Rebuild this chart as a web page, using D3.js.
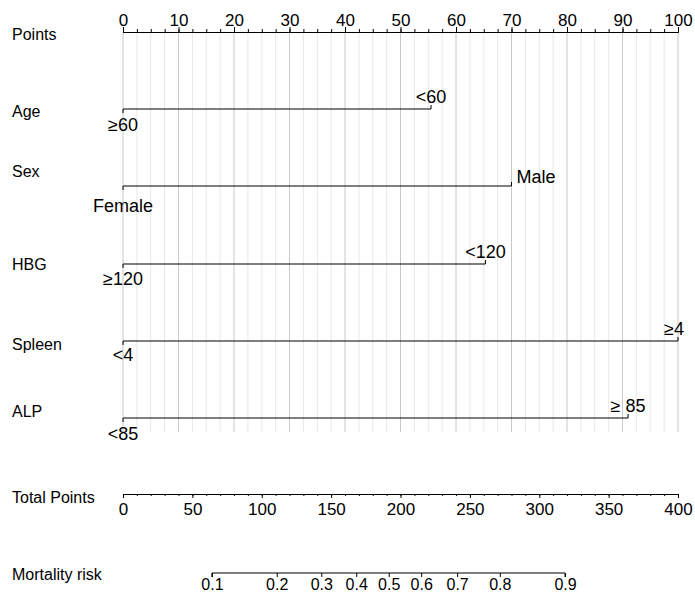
<!DOCTYPE html>
<html>
<head>
<meta charset="utf-8">
<script src="https://cdn.jsdelivr.net/npm/d3@7"></script>
<style>
  body { margin: 0; background: #fff; }
  svg text { font-family: "Liberation Sans", Arial, sans-serif; fill: #000; }
</style>
</head>
<body>
<svg id="chart" width="695" height="596"></svg>
<script>
// nomogram variables: name, label of 0-point level, label of other level, points of other level
var varNames = ["Age", "Sex", "HBG", "Spleen", "ALP"]
var lowLabels = ["\u226560", "Female", "\u2265120", "<4", "<85"]
var highLabels = ["<60", "Male", "<120", "\u22654", "\u2265 85"]
var highPoints = [55.5, 70, 65.3, 100, 91]

var pointTicks = [0, 10, 20, 30, 40, 50, 60, 70, 80, 90, 100]
var totalTicks = [0, 50, 100, 150, 200, 250, 300, 350, 400]

// mortality risk ticks and the total points where each sits
var riskTicks = ["0.1", "0.2", "0.3", "0.4", "0.5", "0.6", "0.7", "0.8", "0.9"]
var riskAtTotal = [64.1, 110.8, 142.9, 168.1, 191.5, 214.9, 240.8, 271.6, 318.6]

var svg = d3.select("#chart")
var left = 123, right = 678

var x = d3.scaleLinear().domain([0, 100]).range([left, right])
var xt = d3.scaleLinear().domain([0, 400]).range([left, right])

var rowY = [109, 186, 264, 341, 418]
var rowLabelY = [117, 177, 270, 350, 417]
var lowDy = [22, 26, 21, 20, 22]

// grid
var grid = svg.append("g")
d3.range(0, 100.01, 2.5).forEach(function(v) {
  grid.append("line")
    .attr("x1", x(v)).attr("x2", x(v))
    .attr("y1", 32).attr("y2", 432)
    .attr("stroke", v % 10 === 0 ? "#c8c8c8" : "#e8e8e8")
    .attr("stroke-width", 1)
})

// label column
function rowLabel(txt, y) {
  svg.append("text").attr("x", 12).attr("y", y)
    .attr("font-size", 16).text(txt)
}
rowLabel("Points", 40)
varNames.forEach(function(n, i) { rowLabel(n, rowLabelY[i]) })
rowLabel("Total Points", 503)
rowLabel("Mortality risk", 580)

// points axis
var pAxis = svg.append("g").attr("transform", "translate(0,32)")
pAxis.call(d3.axisTop(x).tickValues(d3.range(0, 100.01, 2.5)).tickSize(3).tickFormat(""))
pAxis.append("g").call(d3.axisTop(x).tickValues(pointTicks).tickSize(5).tickFormat(d3.format("d")))
pAxis.selectAll("text").attr("font-size", 17).attr("font-family", "Liberation Sans, Arial").attr("fill", "#000").attr("dy", "0.1em")
pAxis.selectAll("path,line").attr("stroke", "#000")

// variable rows
varNames.forEach(function(n, i) {
  var y = rowY[i]
  var g = svg.append("g")
  g.append("line")
    .attr("x1", x(0)).attr("x2", x(highPoints[i]))
    .attr("y1", y).attr("y2", y)
    .attr("stroke", "#000").attr("stroke-width", 1.1)
  g.append("line")
    .attr("x1", x(0)).attr("x2", x(0))
    .attr("y1", y).attr("y2", y + 4).attr("stroke", "#000")
  g.append("line")
    .attr("x1", x(highPoints[i])).attr("x2", x(highPoints[i]))
    .attr("y1", y).attr("y2", y - 4).attr("stroke", "#000")
  g.append("text")
    .attr("x", x(0)).attr("y", y + lowDy[i])
    .attr("text-anchor", "middle").attr("font-size", 18)
    .text(lowLabels[i])
  var hx = x(highPoints[i]), anchor = "middle", hy = y - 6
  if (n === "Sex") { hx += 5; anchor = "start"; hy = y - 3 }
  if (n === "Spleen") { hx -= 4 }
  g.append("text")
    .attr("x", hx).attr("y", hy)
    .attr("text-anchor", anchor).attr("font-size", 18)
    .text(highLabels[i])
})

// total points axis
var tAxis = svg.append("g").attr("transform", "translate(0,494)")
tAxis.call(d3.axisBottom(xt).tickValues(d3.range(0, 400.01, 10)).tickSize(2).tickFormat(""))
tAxis.append("g").call(d3.axisBottom(xt).tickValues(totalTicks).tickSize(4).tickFormat(d3.format("d")))
tAxis.selectAll("text").attr("font-size", 17).attr("font-family", "Liberation Sans, Arial").attr("fill", "#000").attr("dy", "0.85em")
tAxis.selectAll("path,line").attr("stroke", "#000")

// mortality risk axis
var rAxis = svg.append("g").attr("transform", "translate(0,573)")
rAxis.call(d3.axisBottom(xt).tickValues(riskAtTotal).tickSize(4)
  .tickFormat(function(d, i) { return riskTicks[i] }))
rAxis.select(".domain").attr("d", "M" + xt(riskAtTotal[0]) + ",4V0H" + xt(riskAtTotal[riskAtTotal.length - 1]) + "V4")
rAxis.selectAll("text").attr("font-size", 16).attr("font-family", "Liberation Sans, Arial").attr("fill", "#000").attr("dy", "10px")
rAxis.selectAll("path,line").attr("stroke", "#000")
</script>
</body>
</html>
